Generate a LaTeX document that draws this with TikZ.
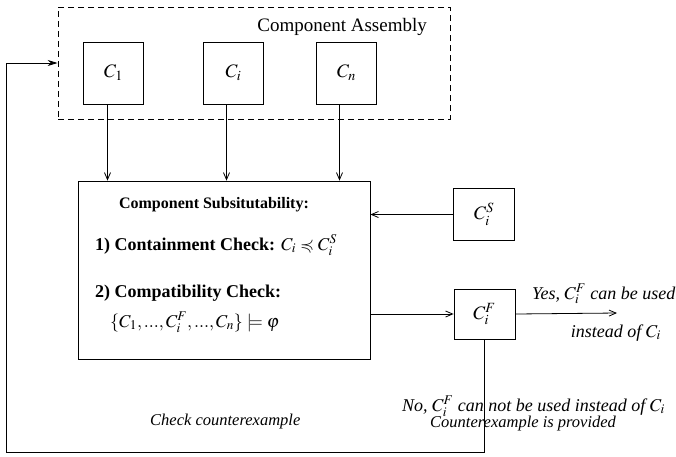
\documentclass[tikz,border=0pt]{standalone}
\usepackage{mathptmx}
\usepackage{amssymb}
\usepackage{fontspec}
\setmainfont{Liberation Serif}
\usetikzlibrary{arrows.meta,calc,positioning}

\begin{document}
\begin{tikzpicture}[x=1pt, y=1pt,
  comp box/.style={draw, line width=0.8pt, inner sep=0pt, minimum width=60pt, minimum height=62pt, font=\fontsize{19}{22}\selectfont},
  side box/.style={draw, line width=0.8pt, inner sep=0pt, minimum width=61pt, minimum height=52pt, font=\fontsize{19}{22}\selectfont},
  assembly box/.style={draw, dashed, dash pattern=on 6pt off 4pt, line width=0.8pt, minimum width=392pt, minimum height=112pt},
  check box/.style={draw, line width=0.8pt, minimum width=292pt, minimum height=178pt},
  title/.style={font=\fontsize{16}{19}\selectfont\bfseries, anchor=base, inner sep=0pt},
  item/.style={font=\fontsize{18}{21}\selectfont, anchor=base west, inner sep=0pt},
  note/.style={font=\fontsize{18}{21}\selectfont\itshape, anchor=base west, inner sep=0pt},
  small note/.style={font=\fontsize{16.5}{19}\selectfont\itshape, anchor=base west, inner sep=0pt},
  feed/.style={-{Straight Barb[length=7pt,width=6pt]}, line width=0.8pt},
  back/.style={-{Stealth[length=10pt,width=6pt]}, line width=0.8pt}
]
\useasboundingbox (0,0) rectangle (676,-456);

% -----------------------------------------------------------------------------
% Component assembly with its components.
% -----------------------------------------------------------------------------
\node[assembly box] (assemblyBox) at (254,-63) {};
\node[font=\fontsize{19}{22}\selectfont, anchor=base east, inner sep=0pt] (assemblyTitle) at (427,-31) {Component Assembly};

\node[comp box] (c1Box) at (113.5,-73) {$C_1$};
\node[comp box] (ciBox) at (233.5,-73) {$C_i$};
\node[comp box] (cnBox) at (346.5,-73) {$C_n$};

% -----------------------------------------------------------------------------
% Substitutability check.
% -----------------------------------------------------------------------------
\node[check box] (subBox) at (224,-270) {};
\node[title] (subTitle) at (214,-208) {Component Subsitutability:};
\node[item] (containCheck) at (95,-250) {\textbf{1) Containment Check:} $C_i \preccurlyeq C_i^S$};
\node[item] (compatCheck) at (95,-297) {\textbf{2) Compatibility Check:}};
\node[item] (compatFormula) at (110,-327) {$\{C_1,...,C_i^F,...,C_n\} \models \varphi$};

\node[side box] (ciSBox) at (484,-214.5) {$C_i^S$};
\node[side box, minimum height=50pt] (ciFBox) at (484.5,-314) {$C_i^F$};

% -----------------------------------------------------------------------------
% Outcome labels.
% -----------------------------------------------------------------------------
\node[note] (yesLabel) at (532,-299) {Yes, $C_i^F$ can be used};
\node[note, anchor=base east] (yesLabelTwo) at (661,-337) {instead of $C_i$};
\node[note] (noLabel) at (402,-411) {No, $C_i^F$ can not be used instead of $C_i$};
\node[small note] (noLabelTwo) at (430,-427) {Counterexample is provided};
\node[small note] (checkLabel) at (150,-425) {Check counterexample};

% -----------------------------------------------------------------------------
% Connections.
% -----------------------------------------------------------------------------
\coordinate (yesEnd) at (617,-313);
\coordinate (loopCorner) at (6,-452);

\draw[feed] ([xshift=-6pt]c1Box.south) -- ([xshift=-6pt]c1Box.south |- subBox.north);
\draw[feed] ([xshift=-7pt]ciBox.south) -- ([xshift=-7pt]ciBox.south |- subBox.north);
\draw[feed] ([xshift=-7pt]cnBox.south) -- ([xshift=-7pt]cnBox.south |- subBox.north);

\draw[feed] (ciSBox.west) -- (ciSBox.west -| subBox.east);
\draw[feed] (subBox.east |- ciFBox.west) -- (ciFBox.west);
\draw[feed] (ciFBox.east) -- (yesEnd);
\draw[back] (ciFBox.south) |- (loopCorner) |- (assemblyBox.west);

\end{tikzpicture}
\end{document}
